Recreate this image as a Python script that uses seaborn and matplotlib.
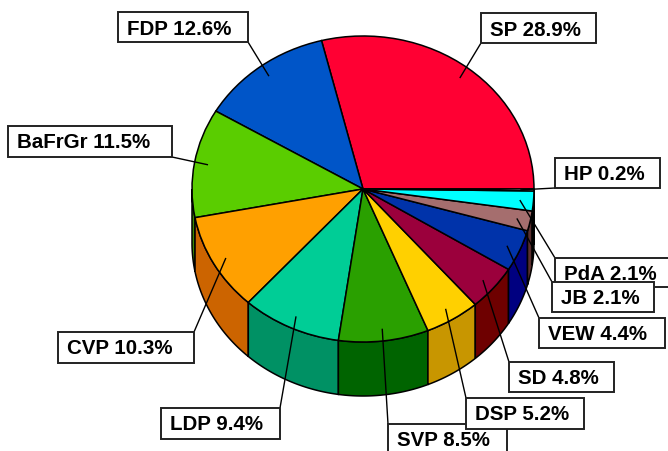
import numpy as np
import matplotlib
matplotlib.use("Agg")
import matplotlib.pyplot as plt
from matplotlib.patches import Rectangle
import seaborn as sns

parties = ["SP", "FDP", "BaFrGr", "CVP", "LDP", "SVP", "DSP", "SD", "VEW", "JB", "PdA", "HP"]
shares = [28.9, 12.6, 11.5, 10.3, 9.4, 8.5, 5.2, 4.8, 4.4, 2.1, 2.1, 0.2]
top_colors = ["#FF0033", "#0055C8", "#5ACD00", "#FFA000", "#00CD96", "#2AA000",
              "#FFD000", "#9B003C", "#0033AA", "#A56E6E", "#00FFFF", "#FFFFFF"]
wall_colors = ["#AA0022", "#003A88", "#3C8800", "#CC6400", "#009164", "#006400",
               "#C89600", "#6E0000", "#000080", "#5A3030", "#101010", "#000000"]

# Layout in image pixels: label box (left, top, right, bottom) and leader anchor on the box
W, H = 668, 452
CX, CY, RX, RY, DEPTH = 363, 190, 171, 153, 54
boxes = {
    "SP": (481, 14, 596, 44), "FDP": (118, 13, 248, 43), "BaFrGr": (8, 127, 172, 158),
    "CVP": (58, 333, 194, 364), "LDP": (161, 409, 280, 440), "SVP": (388, 425, 507, 460),
    "DSP": (466, 399, 584, 430), "SD": (509, 363, 614, 393), "VEW": (539, 319, 665, 349),
    "JB": (552, 283, 654, 313), "PdA": (555, 259, 680, 288), "HP": (555, 159, 660, 189),
}
anchors = {
    "SP": (481, 44), "FDP": (248, 43), "BaFrGr": (172, 158), "CVP": (194, 333),
    "LDP": (280, 409), "SVP": (388, 425), "DSP": (466, 399), "SD": (509, 363),
    "VEW": (539, 319), "JB": (552, 283), "PdA": (555, 259), "HP": (555, 189),
}
draw_order = ["SP", "FDP", "BaFrGr", "CVP", "LDP", "SVP", "DSP", "SD", "VEW", "PdA", "JB", "HP"]

sns.set_theme(style="white")
plt.rcParams["font.family"] = ["Liberation Sans", "DejaVu Sans"]
palette_top = sns.color_palette(top_colors)
palette_wall = sns.color_palette(wall_colors)


def px(x, y):
    return (x - CX) / RX, (CY - y) / RY


fig = plt.figure(figsize=(W / 100, H / 100), dpi=100, facecolor="white")
ax = fig.add_axes([0, 0, 1, 1])

# Side wall of the cylinder, from the same shares as the top
edges = np.concatenate([[0], np.cumsum(shares)]) / sum(shares) * 360
depth = DEPTH / RY
for a0, a1, c in zip(edges[:-1], edges[1:], palette_wall):
    lo, hi = max(a0, 180), min(a1, 360)
    if hi <= lo:
        continue
    t = np.radians(np.linspace(lo, hi, 80))
    xs = np.concatenate([np.cos(t), np.cos(t[::-1])])
    ys = np.concatenate([np.sin(t), np.sin(t[::-1]) - depth])
    ax.fill(xs, ys, facecolor=c, edgecolor="black", linewidth=1.1, zorder=0.5)

ax.pie(shares, colors=palette_top, startangle=0, counterclock=True, radius=1,
       wedgeprops={"edgecolor": "black", "linewidth": 1.1}, normalize=True)

ax.set_aspect("auto")
x0, y1 = px(0, 0)
x1, y0 = px(W, H)
ax.set_xlim(x0, x1)
ax.set_ylim(y0, y1)
ax.axis("off")

mids = (edges[:-1] + edges[1:]) / 2
z = 5
for name in draw_order:
    i = parties.index(name)
    m = np.radians(mids[i])
    ax_, ay_ = px(*anchors[name])
    ax.plot([0.92 * np.cos(m), ax_], [0.92 * np.sin(m), ay_], color="black", lw=1.0,
            zorder=4, solid_capstyle="butt")
    l, t, r, b = boxes[name]
    bx, by = px(l, b)
    tx, ty = px(r, t)
    ax.add_patch(Rectangle((bx, by), tx - bx, ty - by, facecolor="white", edgecolor="#222222",
                           linewidth=1.4, zorder=z))
    lx, ly = px(l + 9, t + 16)
    ax.text(lx, ly, f"{name} {shares[i]}%", fontsize=14.8, fontweight="bold", color="#000000",
            ha="left", va="center", zorder=z + 0.1)
    z += 1

fig.savefig("out.png", dpi=100, facecolor="white")
